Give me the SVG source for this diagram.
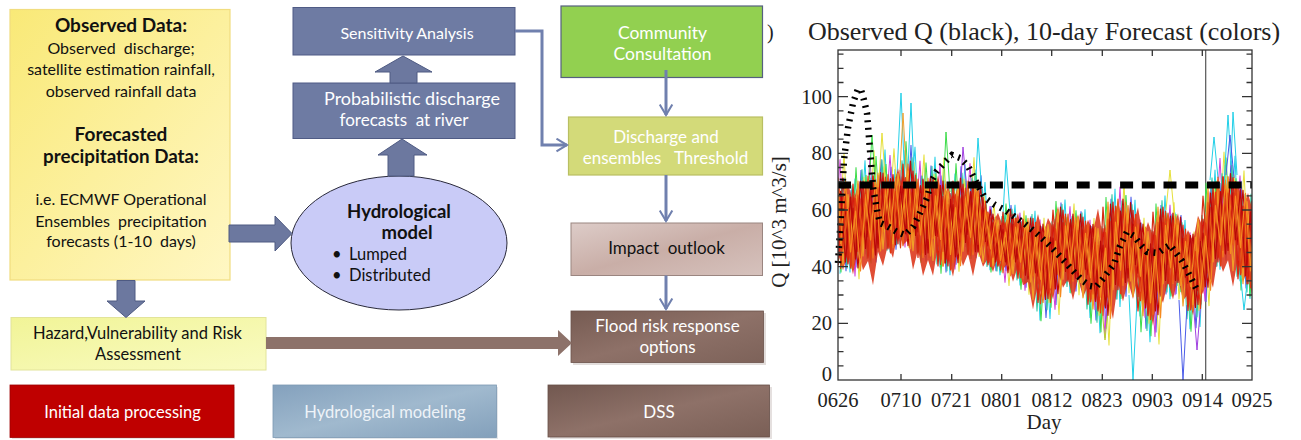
<svg xmlns="http://www.w3.org/2000/svg" xmlns:xlink="http://www.w3.org/1999/xlink" width="1301" height="440" viewBox="0 0 1301 440">
<style>
.sans{font-family:Lato,"Open Sans","DejaVu Sans",sans-serif}
.t16{font-size:16px}
.t165{font-size:16.5px}
.t17{font-size:17px}
.t19{font-size:19px}
.b{font-weight:bold}
.w{fill:#ffffff}
.k{fill:#111111}
.pre{white-space:pre}
.serif{font-family:"Liberation Serif","Times New Roman",serif;fill:#222}
.blk{fill:#6C789F;stroke:#4E5A82;stroke-width:1}
.conn{fill:none;stroke:#7080AE;stroke-width:3}
.ens{fill:none;stroke-width:1.2;stroke-linejoin:round}
.col{fill:none;stroke-width:1}
</style>
<defs>
<linearGradient id="gYellow" x1="0" y1="0" x2="1" y2="1"><stop offset="0" stop-color="#F9E977"/><stop offset="1" stop-color="#FFF7C4"/></linearGradient>
<linearGradient id="gImpact" x1="0" y1="0" x2="1" y2="1"><stop offset="0" stop-color="#DDCCC8"/><stop offset="0.5" stop-color="#C9AEA7"/><stop offset="1" stop-color="#D6C2BD"/></linearGradient>
<linearGradient id="gFlood" x1="0" y1="0" x2="1" y2="1"><stop offset="0" stop-color="#765B52"/><stop offset="0.5" stop-color="#8E7168"/><stop offset="1" stop-color="#7D6259"/></linearGradient>
<linearGradient id="gHazard" x1="0" y1="0" x2="1" y2="1"><stop offset="0" stop-color="#F1F497"/><stop offset="1" stop-color="#F9FBC2"/></linearGradient>
<linearGradient id="gHydro" x1="0" y1="0" x2="1" y2="1"><stop offset="0" stop-color="#84A1BD"/><stop offset="0.5" stop-color="#A0B9CE"/><stop offset="1" stop-color="#83A0BB"/></linearGradient>
<linearGradient id="gDSS" x1="0" y1="0" x2="1" y2="1"><stop offset="0" stop-color="#725850"/><stop offset="0.5" stop-color="#8E7168"/><stop offset="1" stop-color="#7A5F56"/></linearGradient>
<marker id="chev" viewBox="0 0 10 10" refX="9" refY="5" markerWidth="5" markerHeight="5" orient="auto" markerUnits="strokeWidth"><path d="M2,0.8 L9,5 L2,9.2" fill="none" stroke="#7080AE" stroke-width="1.4"/></marker>
<clipPath id="plotClip"><rect x="838" y="50" width="414" height="330"/></clipPath>
<polyline id="lineA" points="838,265 843,193.5 848,264 853,194.5 858,241 863,181 868,256 873,184 878,243 883,173 888,249 893,187.5 898,243.8 903,173.6 908,220 913,171 918,250.6 923,186.4 928,248 933,178.4 938,260.4 943,196 948,266 953,190.8 958,236.9 963,184 968,251.2 973,187.9 978,247.6 983,197 988,262.4 993,223 998,266.1 1003,220 1008,253.6 1013,214 1018,273.6 1023,224.5 1028,275 1033,218.3 1038,299.6 1043,238 1048,298.5 1053,224.5 1058,267.2 1063,210 1068,279.2 1073,220.3 1078,275.2 1083,217.2 1088,297.8 1093,238.5 1098,309 1103,228.5 1108,281.1 1113,202 1118,289.6 1123,207.1 1128,273 1133,210.3 1138,296.6 1143,239.5 1148,315.7 1153,231.5 1158,282.2 1163,207 1168,283.8 1173,219.6 1178,278.2 1183,225.2 1188,306 1193,247.5 1198,304.4 1203,219.1 1208,258.4 1213,188 1218,262 1223,184.5 1228,245.4 1233,177.6 1238,270.6 1243,206 1248,283.7 1252,201.5 1257,260"/>
<polyline id="lineB" points="838,194 843,265 848,200 853,262 858,184 863,251.5 868,190 873,258 878,175.5 883,232 888,181.5 893,247.7 898,189.2 903,236.6 908,164 913,238.5 918,188.5 923,257.4 928,180.5 933,238.4 938,188.4 943,266 948,202.4 953,259.8 958,181 963,245.5 968,194.5 973,254.6 978,188.2 983,244.4 988,212.9 993,265 998,228.4 1003,265 1008,212 1013,265 1018,225 1023,278.2 1028,221 1033,275.8 1038,229.1 1043,302.4 1048,240 1053,292 1058,210 1063,274.5 1068,222.5 1073,281.2 1078,217.1 1083,272.2 1088,228.8 1093,304.3 1098,244 1103,311 1108,207 1113,287.5 1118,214 1123,285.4 1128,205.5 1133,267.8 1138,226.1 1143,310.9 1148,246.8 1153,314 1158,212 1163,283.5 1168,219 1173,283.4 1178,220.1 1183,280.2 1188,238.5 1193,310.5 1198,244.6 1203,289.6 1208,196 1213,261.5 1218,194.5 1223,257 1228,176.5 1233,242.6 1238,192.6 1243,278.8 1248,214.8 1252,284 1257,220"/>
<polyline id="lineC" points="838,241 843,178 848,249 853,208 858,268 863,195 868,237 873,176 878,248 883,187.5 888,226.5 893,174.6 898,231.2 903,186.2 908,245.7 913,184.5 918,232 923,179 928,253 933,192.8 938,236.4 943,181 948,251.4 953,204.6 958,262.7 963,196.3 968,234.4 973,181 978,252 983,208.3 988,245.9 993,214 998,257.4 1003,229 1008,272.8 1013,224.2 1018,259.2 1023,219 1028,279 1033,232.1 1038,276.1 1043,224.2 1048,285 1053,238 1058,293.6 1063,222.9 1068,262.4 1073,214 1078,279.5 1083,230.4 1088,274.8 1093,224.4 1098,294 1103,245 1108,315.3 1113,219.1 1118,267.2 1123,199 1128,278 1133,224.1 1138,273.1 1143,224.2 1148,299.8 1153,248 1158,314.6 1163,222.3 1168,264.6 1173,213 1178,282.5 1183,238.4 1188,283.5 1193,234 1198,290.6 1203,233.2 1208,287.2 1213,202.7 1218,242 1223,177 1228,250.5 1233,193.2 1238,244.6 1243,190.4 1248,267.8 1252,218 1257,270"/>
</defs>

<rect x="0" y="0" width="1301" height="440" fill="#ffffff"/>

<!-- ===== Flowchart nodes ===== -->
<g id="node-observed-data">
<rect x="10" y="9.5" width="220" height="270.5" fill="url(#gYellow)" stroke="#F1DD7F" stroke-width="1.2"/>
<text class="sans t19 b k" x="121" y="32" text-anchor="middle">Observed Data:</text>
<text class="sans t16 k pre" x="121" y="53.5" text-anchor="middle">Observed  discharge;</text>
<text class="sans t16 k" x="121" y="75" text-anchor="middle">satellite estimation rainfall,</text>
<text class="sans t16 k" x="121" y="96.5" text-anchor="middle">observed rainfall data</text>
<text class="sans t19 b k" x="121" y="140.5" text-anchor="middle">Forecasted</text>
<text class="sans b k" font-size="18.8" x="121" y="162.5" text-anchor="middle">precipitation Data:</text>
<text class="sans t16 k" x="121" y="205" text-anchor="middle">i.e. ECMWF Operational</text>
<text class="sans t16 k pre" x="121" y="226.5" text-anchor="middle">Ensembles  precipitation</text>
<text class="sans t16 k pre" x="121" y="247" text-anchor="middle">forecasts (1-10  days)</text>
</g>

<g id="node-sensitivity">
<rect x="293" y="7.5" width="222" height="47.5" fill="#6E7BA3" stroke="#4F5B85" stroke-width="1"/>
<text class="sans t16 w" x="407" y="39" text-anchor="middle">Sensitivity Analysis</text>
</g>

<g id="node-probabilistic">
<rect x="293" y="83" width="222" height="55.5" fill="#6E7BA3" stroke="#4F5B85" stroke-width="1"/>
<text class="sans w" font-size="18" x="412" y="105" text-anchor="middle">Probabilistic discharge</text>
<text class="sans t17 w pre" x="404" y="125.5" text-anchor="middle">forecasts  at river</text>
</g>

<g id="node-hydrological-model">
<ellipse cx="399" cy="243" rx="108" ry="67" fill="#C9CBF7" stroke="#2A2A3A" stroke-width="1"/>
<text class="sans b k" font-size="18.5" x="399" y="218" text-anchor="middle">Hydrological</text>
<text class="sans b k" font-size="18.5" x="407" y="238.5" text-anchor="middle">model</text>
<text class="sans t165 k" x="332" y="260">•</text>
<text class="sans t165 k" x="349" y="260">Lumped</text>
<text class="sans t165 k" x="332" y="281">•</text>
<text class="sans t165 k" x="349" y="281">Distributed</text>
</g>

<g id="node-community">
<rect x="561" y="6" width="201.5" height="71.5" fill="#92D050" stroke="#55607F" stroke-width="1.2"/>
<text class="sans w" font-size="17.5" x="662.5" y="38.5" text-anchor="middle">Community</text>
<text class="sans w" font-size="17.5" x="662.5" y="59.5" text-anchor="middle">Consultation</text>
</g>

<g id="node-threshold">
<rect x="568.5" y="117" width="194" height="58" fill="#D3DA79" stroke="#B9BF62" stroke-width="1.2"/>
<text class="sans t17 w" x="666" y="142.7" text-anchor="middle">Discharge and</text>
<text class="sans t17 w pre" x="665.5" y="163.5" text-anchor="middle">ensembles   Threshold</text>
</g>

<g id="node-impact">
<rect x="571" y="223" width="191.5" height="52.5" fill="url(#gImpact)" stroke="#9A8580" stroke-width="1"/>
<text class="sans t17 k pre" x="666.5" y="254" text-anchor="middle">Impact  outlook</text>
</g>

<g id="node-flood-response">
<rect x="573" y="313" width="193" height="52" fill="#CFC6C3" opacity="0.6"/>
<rect x="571" y="311" width="192.5" height="51.5" fill="url(#gFlood)" stroke="#6B534B" stroke-width="0.8"/>
<text class="sans t17 w" x="667.5" y="332" text-anchor="middle">Flood risk response</text>
<text class="sans t17 w" x="667.5" y="353" text-anchor="middle">options</text>
</g>

<g id="node-hazard">
<rect x="11" y="317.5" width="255" height="52.5" fill="url(#gHazard)" stroke="#E2E49A" stroke-width="1"/>
<text class="sans t165 k" x="137.5" y="338.5" text-anchor="middle">Hazard,Vulnerability and Risk</text>
<text class="sans t165 k" x="138" y="360" text-anchor="middle">Assessment</text>
</g>

<g id="legend-initial">
<rect x="12" y="387" width="223" height="52" fill="#D8CFCF" opacity="0.6"/>
<rect x="10" y="385" width="224" height="52.5" fill="#BF0000" stroke="#9E0000" stroke-width="0.8"/>
<text class="sans t165 w" x="122.5" y="418" text-anchor="middle">Initial data processing</text>
</g>

<g id="legend-hydro">
<rect x="275" y="387" width="223" height="52" fill="#D0D6DC" opacity="0.6"/>
<rect x="273" y="385" width="223.5" height="52.5" fill="url(#gHydro)" stroke="#7C98B2" stroke-width="0.8"/>
<text class="sans t165" fill="#EEF3F8" x="385" y="418" text-anchor="middle">Hydrological modeling</text>
</g>

<g id="legend-dss">
<rect x="550" y="387" width="222" height="52" fill="#D3CCCA" opacity="0.6"/>
<rect x="548" y="385" width="221.5" height="52" fill="url(#gDSS)" stroke="#674F47" stroke-width="0.8"/>
<text class="sans t17 w" x="659" y="418" text-anchor="middle">DSS</text>
</g>

<!-- ===== Connectors ===== -->
<g id="connectors">
<polygon class="blk" points="229,225 275,225 275,216 292,233.5 275,251 275,242 229,242"/>
<polygon class="blk" points="388,176 388,155 378,155 402,139 427,155 414,155 414,176"/>
<polygon class="blk" points="390,83 390,72 375,72 403,56 432,72 417,72 417,83"/>
<polygon class="blk" points="117,280.5 135,280.5 135,301 145,301 126,317.5 107,301 117,301"/>
<polygon fill="#8D726A" points="266,337 558,337 558,330 572,343 558,356 558,349 266,349"/>
<path class="conn" d="M515,31 H542 V145 H567" marker-end="url(#chev)"/>
<path class="conn" d="M666,70 V115" marker-end="url(#chev)"/>
<path class="conn" d="M666,175 V221" marker-end="url(#chev)"/>
<path class="conn" d="M666,275.5 V309" marker-end="url(#chev)"/>
</g>

<!-- ===== Chart ===== -->
<text class="serif" x="767" y="39" font-size="20">)</text>
<text class="serif" x="1044" y="40" font-size="26" text-anchor="middle">Observed Q (black), 10-day Forecast (colors)</text>
<text class="serif" font-size="21" text-anchor="middle" transform="translate(786,222) rotate(-90)">Q [10^3 m^3/s]</text>

<line x1="1205.7" y1="50" x2="1205.7" y2="380" stroke="#555" stroke-width="1.2"/>

<g id="ensemble" clip-path="url(#plotClip)">
<use xlink:href="#lineA" class="col" stroke="#22D0E8" transform="translate(2,240) scale(1,1.35) translate(0,-240)"/>
<use xlink:href="#lineB" class="col" stroke="#3DDC4A" transform="translate(-2,240) scale(1,1.3) translate(0,-240)"/>
<use xlink:href="#lineC" class="col" stroke="#E6E03A" transform="translate(1,240) scale(1,1.4) translate(0,-240)"/>
<use xlink:href="#lineB" class="col" stroke="#4A5BE8" transform="translate(3,240) scale(1,1.25) translate(0,-240)"/>
<use xlink:href="#lineC" class="col" stroke="#D040D8" transform="translate(-3,240) scale(1,1.3) translate(0,-240)"/>
<use xlink:href="#lineA" class="col" stroke="#30C8A0" transform="translate(-1,240) scale(1,1.2) translate(0,-240)"/>
<path class="col" stroke="#22D0E8" d="M896,195 L901,93 L905,185 M907,190 L911,103 L915,195 M975,195 L978,138 L982,195 M1003,215 L1006,160 L1010,212 M1129,295 L1133,380 L1137,300 M1224,185 L1228,115 L1231,165 L1233,112 L1237,175 M1210,180 L1214,137 L1218,178 M1240,270 L1244,310 L1248,275"/>
<path class="col" stroke="#F0A030" d="M899,190 L903,113 L907,185"/>
<path class="col" stroke="#3DDC4A" d="M868,200 L872,135 L876,195 M943,195 L946,132 L950,192"/>
<path class="col" stroke="#E6E03A" d="M878,195 L882,133 L886,190 M1166,210 L1170,170 L1174,212"/>
<path class="col" stroke="#A040E0" d="M960,195 L963,147 L967,192 M1193,300 L1197,350 L1201,300"/>
<path class="col" stroke="#4A5BE8" d="M1179,300 L1183,380 L1187,305 M1226,175 L1230,135 L1234,178"/>
<path class="col" stroke="#B8D030" d="M1101,300 L1105,340 L1109,300"/>

<polygon fill="#DC3418" opacity="0.88" transform="translate(0,245) scale(1,0.84) translate(0,-245)" points="838,173 843,188 848,171 853,194.5 858,173 863,202 868,180.5 873,194 878,165.5 883,190 888,168 893,179 898,153.5 903,180 908,166 913,187 918,170 923,198.6 928,178 933,190.4 938,162 943,193.5 948,175.5 953,193 958,174.5 963,200.4 968,184 973,194.8 978,175 983,212 988,204.6 993,218.5 998,206.6 1003,223 1008,212 1013,224.2 1018,207 1023,235.6 1028,221 1033,232.1 1038,208 1043,233.4 1048,213 1053,224.5 1058,199 1063,229.3 1068,214.1 1073,228.7 1078,208.5 1083,232.6 1088,215 1093,229.1 1098,201.5 1103,236.7 1108,209.8 1113,222 1118,191.6 1123,220.6 1128,203 1133,221.8 1138,200.2 1143,237 1148,217.6 1153,234.2 1158,203.9 1163,227.4 1168,207 1173,226.2 1178,207.2 1183,242.8 1188,227.2 1193,240.7 1198,210.1 1203,223.8 1208,196 1213,202.7 1218,169.5 1223,199.5 1228,176.5 1233,193.2 1238,169.2 1243,200.8 1248,183 1252,201.5 1252,306 1248,273.1 1243,289.2 1238,260.2 1233,294.6 1228,263.2 1223,277 1218,257 1213,295.8 1208,277.6 1203,303.7 1198,290.6 1193,328.5 1188,303.7 1183,311 1178,282.5 1173,309.8 1168,288.6 1163,314.1 1158,298.4 1153,341.5 1148,307.7 1143,316 1138,282.5 1133,309.2 1128,288 1123,312.4 1118,289.6 1113,333 1108,306.7 1103,322 1098,289 1093,318.4 1088,293.2 1083,307.4 1078,283.8 1073,310.6 1068,285.5 1063,296 1058,276 1053,310 1048,289.5 1043,311.6 1038,290.2 1033,321.8 1028,289 1023,293 1018,270 1013,288.8 1008,266.4 1003,274 998,257.4 993,277 988,260.7 983,271 978,252 973,282.2 968,255.4 963,270 958,249.8 953,282.8 948,258.8 943,271 938,246 933,281.6 928,263 923,282 918,250.6 913,274.5 908,239 903,245 898,227 893,260.6 888,244.5 883,270 878,253 873,293 868,264 863,275 858,250 853,280 848,254 843,275 838,255"/>

<use xlink:href="#lineA" class="ens" stroke="#D41810"/>
<use xlink:href="#lineB" class="ens" stroke="#F27A1C"/>
<use xlink:href="#lineC" class="ens" stroke="#C00A08"/>
<use xlink:href="#lineA" class="ens" stroke="#F0A028" transform="translate(-5,0)"/>
<use xlink:href="#lineB" class="ens" stroke="#D62A12" transform="translate(-5,0)"/>
<use xlink:href="#lineC" class="ens" stroke="#E85A18" transform="translate(-5,0)"/>
<use xlink:href="#lineA" class="ens" stroke="#E23A10" transform="translate(2.5,4)"/>
<use xlink:href="#lineB" class="ens" stroke="#B80808" transform="translate(2.5,-3)"/>
<use xlink:href="#lineC" class="ens" stroke="#F58A20" transform="translate(2.5,3)"/>
</g>

<polyline points="838,263 841,215 844,160 848,128 853,103 858,89 861,90 864,100 867,113 870,150 873,187 877,210 880,223 887,226 897,232 905,235 913,227 920,213 927,198 931,182 937,171 947,160 952,155 960,158 968,166 975,180 985,198 995,205 1005,210 1015,217 1025,224 1035,232 1045,241 1055,251 1065,262 1075,273 1083,281 1090,286 1096,287 1102,280 1108,272 1114,264 1120,246 1127,232 1134,236 1141,245 1147,252 1158,253 1165,248 1170,245 1176,253 1182,261 1190,276 1197,290" fill="none" stroke="#000" stroke-width="6.5" stroke-dasharray="2 5.5"/>
<line x1="838" y1="185" x2="1252" y2="185" stroke="#000" stroke-width="7" stroke-dasharray="13 8.7"/>

<g id="axes" fill="none" stroke="#333" stroke-width="1.3">
<rect x="838" y="50" width="414" height="330"/>
<path d="M838,365.8h5.5M838,351.7h5.5M838,337.5h5.5M838,323.3h10M838,309.2h5.5M838,295h5.5M838,280.8h5.5M838,266.7h10M838,252.5h5.5M838,238.3h5.5M838,224.2h5.5M838,210h10M838,195.8h5.5M838,181.7h5.5M838,167.5h5.5M838,153.3h10M838,139.2h5.5M838,125h5.5M838,110.8h5.5M838,96.7h10M838,82.5h5.5M838,68.3h5.5M838,54.2h5.5"/>
<path d="M1252,365.8h-5.5M1252,351.7h-5.5M1252,337.5h-5.5M1252,323.3h-10M1252,309.2h-5.5M1252,295h-5.5M1252,280.8h-5.5M1252,266.7h-10M1252,252.5h-5.5M1252,238.3h-5.5M1252,224.2h-5.5M1252,210h-10M1252,195.8h-5.5M1252,181.7h-5.5M1252,167.5h-5.5M1252,153.3h-10M1252,139.2h-5.5M1252,125h-5.5M1252,110.8h-5.5M1252,96.7h-10M1252,82.5h-5.5M1252,68.3h-5.5M1252,54.2h-5.5"/>
<path d="M901,380v-6M951.7,380v-6M1001.7,380v-6M1051.7,380v-6M1102.3,380v-6M1152.3,380v-6M1202.3,380v-6M901,50v6M951.7,50v6M1001.7,50v6M1051.7,50v6M1102.3,50v6M1152.3,50v6M1202.3,50v6"/>
</g>

<g id="axis-labels" class="serif" font-size="20.5">
<text x="832" y="103.5" text-anchor="end">100</text>
<text x="832" y="160" text-anchor="end">80</text>
<text x="832" y="217" text-anchor="end">60</text>
<text x="832" y="273.5" text-anchor="end">40</text>
<text x="832" y="330" text-anchor="end">20</text>
<text x="832" y="381" text-anchor="end">0</text>
<text x="838" y="407" text-anchor="middle">0626</text>
<text x="901" y="407" text-anchor="middle">0710</text>
<text x="951.5" y="407" text-anchor="middle">0721</text>
<text x="1001.5" y="407" text-anchor="middle">0801</text>
<text x="1052" y="407" text-anchor="middle">0812</text>
<text x="1102" y="407" text-anchor="middle">0823</text>
<text x="1152.5" y="407" text-anchor="middle">0903</text>
<text x="1202.5" y="407" text-anchor="middle">0914</text>
<text x="1252" y="407" text-anchor="middle">0925</text>
<text x="1044" y="428.5" text-anchor="middle" font-size="21">Day</text>
</g>
</svg>
